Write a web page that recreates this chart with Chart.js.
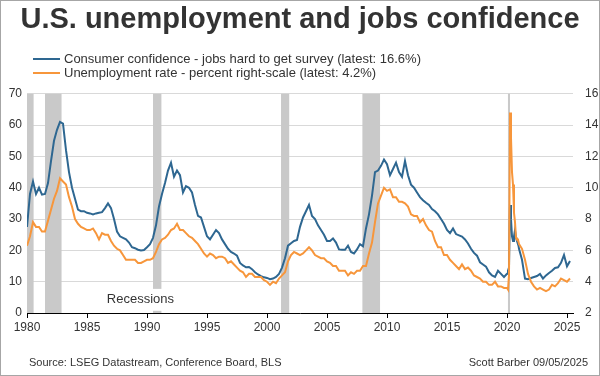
<!DOCTYPE html>
<html>
<head>
<meta charset="utf-8">
<script src="https://cdn.jsdelivr.net/npm/chart.js@4.4.0/dist/chart.umd.min.js"></script>
<style>
  html, body { margin: 0; padding: 0; background: #fff; }
</style>
</head>
<body>
<canvas id="jobsChart" width="600" height="376"></canvas>
<script>
// observation dates: Jan/Apr/Jul/Oct readings, monthly through 2020
const dates = [];
for (let y = 1980; y <= 2019; y++) for (let q = 0; q < 4; q++) dates.push(y + q / 4);
for (let m = 0; m < 12; m++) dates.push(2020 + m / 12);
for (let y = 2021; y <= 2025; y++) for (let q = 0; q < 4; q++) if (y < 2025 || q < 2) dates.push(y + q / 4);

// Conference Board: jobs hard to get (%), left scale
const jobsHardToGet = [
  27.5, 38, 42, 38,       // 1980
  40, 37.8, 38, 41.5,     // 1981
  48.5, 55, 58.5, 61,     // 1982
  60.5, 52, 45, 40,       // 1983
  36.5, 33, 32.5, 32.5,   // 1984
  32, 31.8, 31.5, 31.8,   // 1985
  32, 32.2, 33.5, 35,     // 1986
  33.5, 30, 26, 24.5,     // 1987
  24, 23.5, 22.5, 21,     // 1988
  20.7, 20.2, 20, 20.1,   // 1989
  21, 22, 24, 28,         // 1990
  34, 38, 41.5, 45.5,     // 1991
  48, 43.5, 45.5, 44,     // 1992
  38.5, 40.5, 40, 38.5,   // 1993
  34.5, 31, 30.5, 27.5,   // 1994
  24.5, 23.5, 25, 26.5,   // 1995
  25.5, 23.5, 22, 20.5,   // 1996
  19.5, 19, 18.3, 16,     // 1997
  15.2, 14.6, 14.7, 14,   // 1998
  13, 12.3, 11.8, 11.4,   // 1999
  11.2, 10.8, 11, 11.5,   // 2000
  12.5, 14.5, 17.5, 21.5, // 2001
  22.3, 23, 23.3, 27.5,   // 2002
  30.5, 32.5, 34.5, 31,   // 2003
  30, 28, 26.5, 25,       // 2004
  23, 23, 23.8, 22.5,     // 2005
  20.3, 20.2, 20.2, 21.5, // 2006
  19.5, 19, 20.3, 22,     // 2007
  21.3, 27, 31.5, 37.5,   // 2008
  45, 45.5, 47, 49,       // 2009
  47.5, 44, 46, 48,       // 2010
  45, 43.5, 48.5, 44,     // 2011
  41, 40, 38.5, 37,       // 2012
  36, 35.2, 34.5, 33.2,   // 2013
  32.5, 31.5, 30, 28.5,   // 2014
  26.5, 25.5, 27, 25.2,   // 2015
  24.8, 24.4, 23.5, 22.2, // 2016
  20.5, 19.2, 18.3, 16.2, // 2017
  15.5, 14.8, 13, 12,     // 2018
  11.5, 13.5, 12.5, 11.5, // 2019
  12.5, 13.5, 14.5, 34.5, 30, 24.5, 23, 24.5, 26.5, 24, 23, 22.5, // 2020 monthly
  20.5, 17, 11, 10.8,     // 2021
  11.2, 11.5, 11.8, 12.5, // 2022
  11, 12, 12.8, 13.5,     // 2023
  14.4, 14.6, 16, 18.5,   // 2024
  14.9, 16.6              // 2025
];

// BLS unemployment rate (%), right scale
const unemploymentRate = [
  6.3, 6.9, 7.8, 7.5,     // 1980
  7.5, 7.2, 7.2, 7.9,     // 1981
  8.6, 9.3, 9.8, 10.6,    // 1982
  10.4, 10.2, 9.4, 8.8,   // 1983
  8.0, 7.7, 7.5, 7.4,     // 1984
  7.3, 7.3, 7.4, 7.1,     // 1985
  6.7, 7.1, 7.0, 7.0,     // 1986
  6.6, 6.3, 6.1, 6.0,     // 1987
  5.7, 5.4, 5.4, 5.4,     // 1988
  5.4, 5.2, 5.2, 5.3,     // 1989
  5.4, 5.4, 5.5, 5.9,     // 1990
  6.4, 6.7, 6.8, 7.0,     // 1991
  7.3, 7.4, 7.7, 7.3,     // 1992
  7.3, 7.1, 6.9, 6.8,     // 1993
  6.6, 6.4, 6.1, 5.8,     // 1994
  5.6, 5.8, 5.7, 5.5,     // 1995
  5.6, 5.6, 5.5, 5.2,     // 1996
  5.3, 5.1, 4.9, 4.7,     // 1997
  4.6, 4.3, 4.5, 4.5,     // 1998
  4.3, 4.3, 4.3, 4.1,     // 1999
  4.0, 3.8, 4.0, 3.9,     // 2000
  4.2, 4.4, 4.6, 5.3,     // 2001
  5.7, 5.9, 5.8, 5.7,     // 2002
  5.8, 6.0, 6.2, 6.0,     // 2003
  5.7, 5.6, 5.5, 5.5,     // 2004
  5.3, 5.2, 5.0, 5.0,     // 2005
  4.7, 4.7, 4.7, 4.4,     // 2006
  4.6, 4.5, 4.7, 4.7,     // 2007
  5.0, 5.0, 5.8, 6.5,     // 2008
  7.8, 9.0, 9.5, 10.0,    // 2009
  9.8, 9.9, 9.4, 9.4,     // 2010
  9.1, 9.1, 9.0, 8.8,     // 2011
  8.3, 8.2, 8.2, 7.8,     // 2012
  8.0, 7.6, 7.3, 7.2,     // 2013
  6.6, 6.2, 6.2, 5.7,     // 2014
  5.7, 5.4, 5.2, 5.0,     // 2015
  4.8, 5.1, 4.8, 4.9,     // 2016
  4.7, 4.4, 4.3, 4.2,     // 2017
  4.0, 4.0, 3.8, 3.8,     // 2018
  4.0, 3.7, 3.7, 3.6,     // 2019
  3.6, 3.5, 4.4, 14.8, 13.2, 11.0, 10.2, 8.4, 7.8, 6.8, 6.7, 6.7, // 2020 monthly
  6.4, 6.1, 5.4, 4.5,     // 2021
  4.0, 3.7, 3.5, 3.6,     // 2022
  3.5, 3.4, 3.5, 3.8,     // 2023
  3.7, 3.9, 4.2, 4.1,     // 2024
  4.0, 4.2                // 2025
];

// NBER recessions (decimal years)
const recessionStarts = [1980.0, 1981.5, 1990.5, 2001.17, 2007.95, 2020.08];
const recessionEnds = [1980.55, 1982.88, 1991.2, 2001.85, 2009.42, 2020.25];
const tickYears = [1980, 1985, 1990, 1995, 2000, 2005, 2010, 2015, 2020, 2025];

const BLUE = '#2e6791';
const ORANGE = '#f7963b';
const TEXT = '#333333';
const FONT = '"Liberation Sans", Arial, sans-serif';

// grey recession bars, the 1990 one is cut to leave room for its label
const recessionShading = {
    id: 'recessionShading',
    beforeDatasetsDraw(chart) {
        const { ctx, scales: { x, y } } = chart;
        ctx.save();
        ctx.fillStyle = '#c9c9c9';
        recessionStarts.forEach((start, i) => {
            const left = x.getPixelForValue(start);
            const right = x.getPixelForValue(recessionEnds[i]);
            const spans = i === 2 ? [[70, 7.7], [0.7, 0]] : [[70, 0]];
            spans.forEach(([hi, lo]) => {
                const top = y.getPixelForValue(hi);
                ctx.fillRect(left, top, right - left, y.getPixelForValue(lo) - top);
            });
        });
        ctx.fillStyle = TEXT;
        ctx.font = '13px ' + FONT;
        ctx.textAlign = 'center';
        ctx.textBaseline = 'middle';
        ctx.fillText('Recessions', x.getPixelForValue(1989.45), y.getPixelForValue(4.2));
        ctx.restore();
    }
};

// legend rows, source line and the outer frame
const annotations = {
    id: 'annotations',
    afterDraw(chart) {
        const ctx = chart.ctx;
        ctx.save();
        ctx.font = '13px ' + FONT;
        ctx.textAlign = 'left';
        ctx.textBaseline = 'alphabetic';
        chart.data.datasets.forEach((ds, i) => {
            const base = 63 + i * 14;
            ctx.strokeStyle = ds.borderColor;
            ctx.lineWidth = 2;
            ctx.beginPath();
            ctx.moveTo(33, base - 4);
            ctx.lineTo(60, base - 4);
            ctx.stroke();
            ctx.fillStyle = TEXT;
            ctx.fillText(ds.label, 64, base);
        });

        ctx.font = '11px ' + FONT;
        ctx.fillText('Source: LSEG Datastream, Conference Board, BLS', 29, 366);
        ctx.textAlign = 'right';
        ctx.fillText('Scott Barber 09/05/2025', 588, 366);

        ctx.strokeStyle = '#a6a6a6';
        ctx.lineWidth = 1;
        ctx.strokeRect(0.5, 0.5, 599, 375);
        ctx.restore();
    }
};

const ctx = document.getElementById('jobsChart').getContext('2d');
new Chart(ctx, {
    type: 'line',
    data: {
        datasets: [{
            label: 'Consumer confidence - jobs hard to get survey (latest: 16.6%)',
            data: dates.map((d, i) => ({ x: d, y: jobsHardToGet[i] })),
            borderColor: BLUE,
            borderWidth: 2,
            pointRadius: 0,
            yAxisID: 'y',
            order: 2
        }, {
            label: 'Unemployment rate - percent right-scale (latest: 4.2%)',
            data: dates.map((d, i) => ({ x: d, y: unemploymentRate[i] })),
            borderColor: ORANGE,
            borderWidth: 2,
            pointRadius: 0,
            yAxisID: 'y2',
            order: 1
        }]
    },
    options: {
        responsive: false,
        animation: false,
        layout: { padding: { top: 0, bottom: 30, left: 0, right: 0 } },
        plugins: {
            legend: { display: false },
            tooltip: { enabled: false },
            title: {
                display: true,
                text: 'U.S. unemployment and jobs confidence',
                color: TEXT,
                font: { family: FONT, size: 29, weight: 'bold' },
                padding: { top: 3, bottom: 56 }
            }
        },
        scales: {
            x: {
                type: 'linear',
                min: 1980,
                max: 2025.5,
                afterBuildTicks: scale => { scale.ticks = tickYears.map(v => ({ value: v })); },
                afterFit: scale => { scale.height = 33; },
                grid: { drawOnChartArea: false, tickLength: 5, color: '#000' },
                border: { color: '#000', z: 1 },
                ticks: {
                    padding: 2,
                    maxRotation: 0,
                    color: TEXT,
                    font: { family: FONT, size: 12 },
                    callback: v => String(v)
                }
            },
            y: {
                position: 'left',
                min: 0,
                max: 70,
                afterFit: scale => { scale.width = 27; },
                grid: { color: '#d9d9d9', drawTicks: false },
                border: { display: false },
                ticks: { stepSize: 10, padding: 5, color: TEXT, font: { family: FONT, size: 12 } }
            },
            y2: {
                position: 'right',
                min: 2,
                max: 16,
                afterFit: scale => { scale.width = 27; },
                grid: { display: false },
                border: { display: false },
                ticks: { stepSize: 2, padding: 4, color: TEXT, font: { family: FONT, size: 12 } }
            }
        }
    },
    plugins: [recessionShading, annotations]
});
</script>
</body>
</html>
